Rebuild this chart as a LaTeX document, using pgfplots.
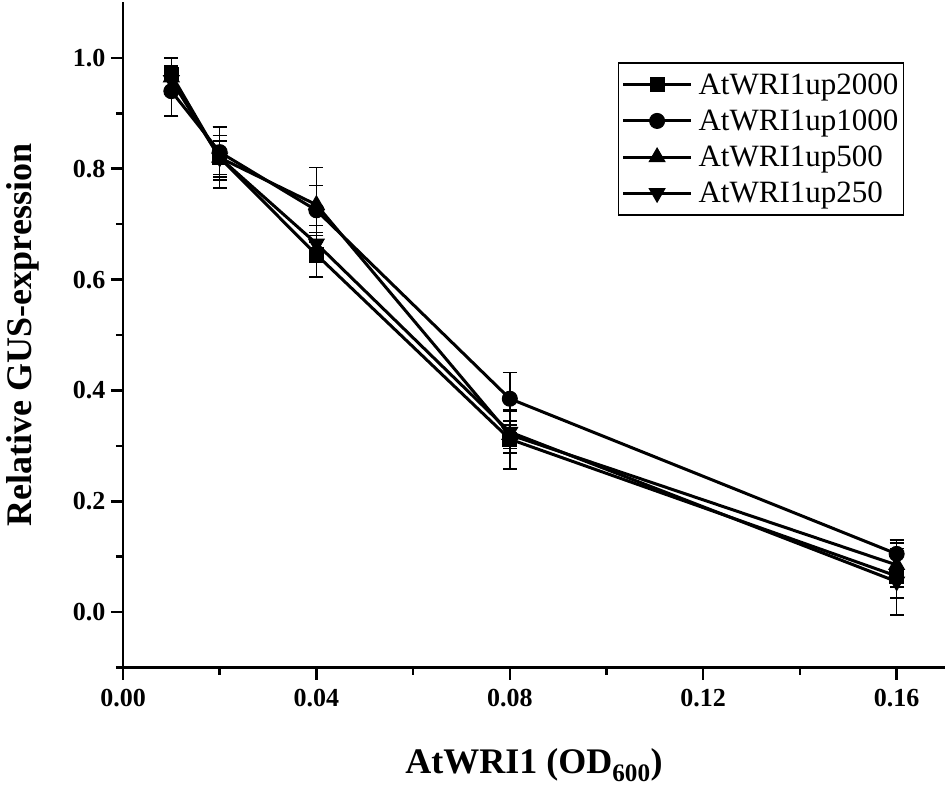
\documentclass[border=0pt]{standalone}
\usepackage{pgfplots}
\pgfplotsset{compat=1.18}
\usepackage{fontspec}
\setmainfont{Liberation Serif}
\pgfplotsset{
  myerr/.style={error bars/.cd, y dir=both, y explicit,
    error bar style={line width=1.5pt, solid},
    error mark options={rotate=90, mark size=7pt, line width=1.5pt}},
}
\begin{document}
\begin{tikzpicture}
\begin{axis}[
  at={(123pt,128.5pt)}, anchor=south west,
  scale only axis, width=822pt, height=665pt,
  xmin=0, xmax=0.17, ymin=-0.1, ymax=1.1,
  axis x line*=bottom, axis y line*=left,
  axis line style={line width=2.7pt},
  xtick={0,0.04,0.08,0.12,0.16},
  xticklabels={0.00,0.04,0.08,0.12,0.16},
  minor xtick={0.02,0.06,0.10,0.14},
  ytick={0,0.2,0.4,0.6,0.8,1.0},
  yticklabels={0.0,0.2,0.4,0.6,0.8,1.0},
  minor ytick={-0.1,0.1,0.3,0.5,0.7,0.9},
  tick align=outside,
  major tick length=12pt, minor tick length=7pt,
  every tick/.style={black, line width=2.5pt},
  ticklabel style={font=\fontsize{26}{30}\selectfont\bfseries},
  xticklabel style={yshift=-6pt},
  yticklabel style={xshift=-2pt},
  xlabel={AtWRI1 (OD\textsubscript{600})},
  xlabel style={font=\fontsize{36}{40}\selectfont\bfseries, at={(axis description cs:0.5,-0.147)}, anchor=center},
  ylabel={Relative GUS-expression},
  ylabel style={font=\fontsize{36}{40}\selectfont\bfseries, at={(axis description cs:-0.1217,0.5)}, anchor=center},
  legend style={at={(axis description cs:0.602,0.9105)}, anchor=north west, draw=black, line width=1.5pt,
    font=\fontsize{31}{36}\selectfont, inner xsep=3pt, inner ysep=9pt, row sep=10pt, column sep=4pt, nodes={inner sep=2pt}},
  legend cell align=left,
  legend image code/.code={
    \draw[mark repeat=2,mark phase=2,#1] plot coordinates {(0pt,0pt) (34pt,0pt) (68pt,0pt)};
  },
]
\addplot[black, line width=3pt, mark=square*, mark size=7pt, mark options={solid, fill=black, line width=1pt},
  myerr] table[x=x, y=y, y error=e] {
x y e
0.01 0.970 0.030
0.02 0.820 0.040
0.04 0.645 0.040
0.08 0.312 0.054
0.16 0.065 0.040
};
\addlegendentry{AtWRI1up2000}
\addplot[black, line width=3pt, mark=*, mark size=7.5pt, mark options={solid, fill=black, line width=1pt},
  myerr] table[x=x, y=y, y error=e] {
x y e
0.01 0.940 0.045
0.02 0.830 0.045
0.04 0.725 0.045
0.08 0.385 0.047
0.16 0.105 0.025
};
\addlegendentry{AtWRI1up1000}
\addplot[black, line width=3pt, mark=triangle*, mark size=9pt, mark options={solid, fill=black, line width=1pt},
  myerr] table[x=x, y=y, y error=e] {
x y e
0.01 0.965 0.020
0.02 0.820 0.055
0.04 0.735 0.067
0.08 0.320 0.025
0.16 0.085 0.040
};
\addlegendentry{AtWRI1up500}
\addplot[black, line width=3pt, mark=triangle*, mark size=9pt, mark options={solid, fill=black, line width=1pt, rotate=180},
  myerr] table[x=x, y=y, y error=e] {
x y e
0.01 0.960 0.025
0.02 0.820 0.030
0.04 0.665 0.033
0.08 0.325 0.038
0.16 0.055 0.060
};
\addlegendentry{AtWRI1up250}
\end{axis}
\pgfresetboundingbox
\useasboundingbox (0,0) rectangle (950pt,796pt);
\end{tikzpicture}
\end{document}
